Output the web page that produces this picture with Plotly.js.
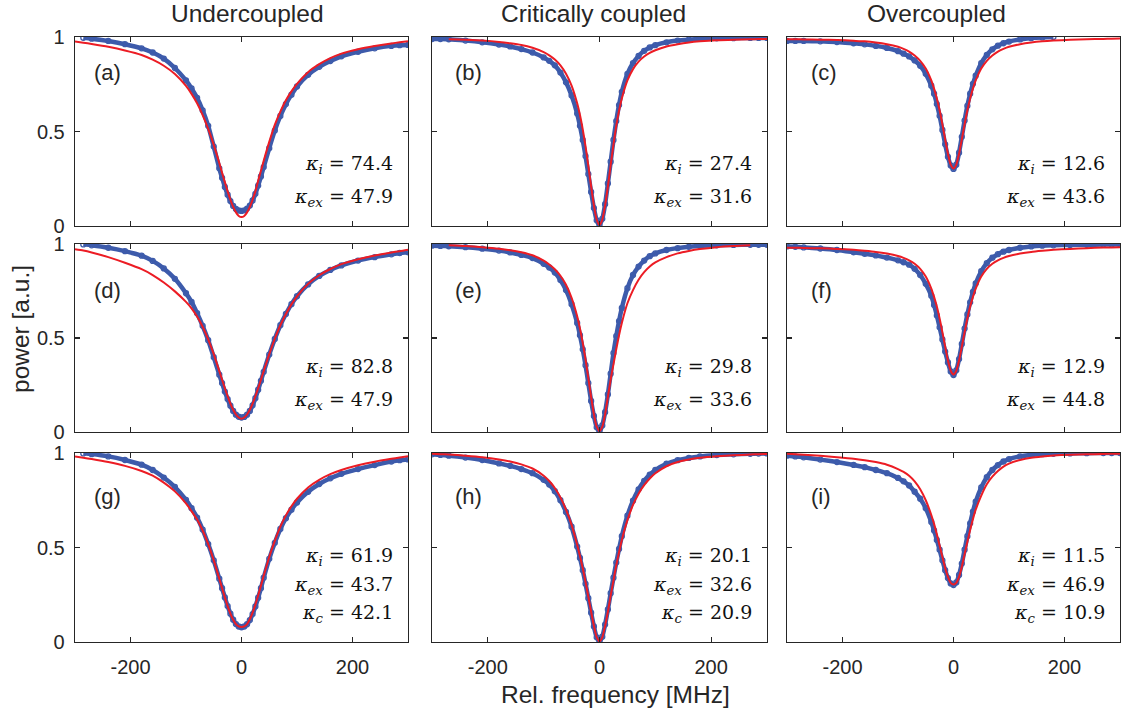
<!DOCTYPE html>
<html>
<head>
<meta charset="utf-8">
<script src="https://cdn.plot.ly/plotly-3.0.1.min.js"></script>
<style>html,body{margin:0;padding:0;background:#fff;}#chart{width:1121px;height:713px;}</style>
</head>
<body>
<div id="chart"></div>
<script>
// Relative frequency grid [MHz]
const freq = [-300,-285,-270,-240,-210,-180,-160,-140,-120,-100,-90,-80,-70,-60,-50,-40,-35,-30,-25,-20,-15,-10,-5,0,5,10,15,20,25,30,35,40,50,60,70,80,90,100,120,140,160,180,210,240,270,285,300];

// Measured power (blue markers) and fits (red lines), panels (a)-(i)
const dataA = [null,0.996,0.991,0.979,0.962,0.940,0.918,0.886,0.836,0.770,0.728,0.678,0.612,0.530,0.420,0.305,0.255,0.207,0.166,0.132,0.106,0.090,0.082,0.080,0.083,0.092,0.108,0.135,0.170,0.214,0.262,0.312,0.412,0.505,0.582,0.645,0.695,0.738,0.800,0.842,0.873,0.898,0.922,0.940,0.953,0.957,0.958];
const fitA  = [0.976,0.970,0.963,0.948,0.929,0.905,0.880,0.848,0.804,0.741,0.699,0.649,0.587,0.514,0.429,0.333,0.282,0.232,0.183,0.139,0.101,0.072,0.053,0.047,0.053,0.072,0.101,0.139,0.183,0.240,0.292,0.345,0.445,0.535,0.605,0.665,0.712,0.752,0.814,0.856,0.888,0.912,0.935,0.952,0.966,0.972,0.978];

const dataB = [0.989,0.989,0.988,0.981,0.972,0.960,0.950,0.936,0.918,0.892,0.874,0.850,0.812,0.760,0.690,0.595,0.530,0.455,0.370,0.275,0.180,0.095,0.030,0.005,0.038,0.115,0.225,0.340,0.455,0.555,0.640,0.710,0.805,0.862,0.900,0.927,0.945,0.957,0.972,0.981,0.986,0.990,0.993,0.994,0.995,0.995,0.995];
const fitB  = [null,null,0.988,0.985,0.981,0.974,0.967,0.958,0.943,0.920,0.903,0.881,0.850,0.806,0.743,0.649,0.587,0.511,0.421,0.318,0.209,0.108,0.033,0.005,0.033,0.108,0.209,0.322,0.430,0.530,0.610,0.675,0.770,0.830,0.870,0.897,0.916,0.930,0.950,0.962,0.971,0.977,0.983,0.986,0.988,0.989,0.990];

const dataC = [0.979,0.979,0.979,0.977,0.973,0.967,0.961,0.953,0.942,0.925,0.912,0.897,0.876,0.848,0.805,0.742,0.700,0.645,0.583,0.508,0.432,0.366,0.320,0.302,0.324,0.388,0.472,0.558,0.636,0.700,0.752,0.795,0.862,0.905,0.935,0.954,0.967,0.976,0.987,0.994,0.998,1.000,null,null,null,null,null];
const fitC  = [0.988,0.988,0.987,0.986,0.984,0.980,0.977,0.971,0.962,0.948,0.937,0.923,0.902,0.874,0.833,0.770,0.727,0.675,0.612,0.538,0.458,0.382,0.325,0.304,0.325,0.382,0.458,0.538,0.612,0.675,0.727,0.770,0.833,0.874,0.902,0.923,0.937,0.948,0.962,0.971,0.977,0.981,0.985,0.988,0.990,0.991,0.992];

const dataD = [null,0.998,0.993,0.980,0.962,0.938,0.910,0.870,0.815,0.738,0.692,0.632,0.565,0.488,0.398,0.305,0.260,0.215,0.175,0.140,0.112,0.092,0.081,0.077,0.080,0.092,0.112,0.142,0.180,0.225,0.272,0.320,0.412,0.495,0.568,0.628,0.680,0.722,0.785,0.830,0.862,0.886,0.912,0.930,0.945,0.952,0.956];
const fitD  = [0.972,0.965,0.955,0.930,0.900,0.866,0.835,0.795,0.748,0.692,0.658,0.614,0.560,0.493,0.414,0.324,0.278,0.233,0.190,0.151,0.118,0.093,0.077,0.071,0.077,0.093,0.118,0.151,0.190,0.233,0.278,0.324,0.414,0.496,0.568,0.628,0.679,0.722,0.788,0.834,0.867,0.893,0.919,0.939,0.955,0.962,0.970];

const dataE = [0.991,0.990,0.988,0.983,0.975,0.965,0.955,0.942,0.925,0.895,0.875,0.848,0.808,0.755,0.680,0.580,0.515,0.440,0.355,0.260,0.165,0.085,0.025,0.004,0.035,0.105,0.200,0.310,0.420,0.510,0.590,0.660,0.765,0.835,0.880,0.912,0.935,0.950,0.968,0.978,0.985,0.990,0.993,0.995,0.996,0.996,0.996];
const fitE  = [null,null,0.993,0.989,0.983,0.975,0.967,0.956,0.940,0.911,0.891,0.866,0.831,0.783,0.714,0.616,0.551,0.474,0.386,0.287,0.186,0.094,0.028,0.004,0.028,0.094,0.186,0.280,0.360,0.440,0.515,0.580,0.685,0.755,0.810,0.850,0.880,0.902,0.930,0.950,0.963,0.973,0.983,0.989,0.993,null,null];

const dataF = [0.987,0.985,0.982,0.976,0.968,0.956,0.948,0.939,0.928,0.913,0.903,0.890,0.868,0.835,0.788,0.725,0.676,0.620,0.557,0.492,0.428,0.370,0.322,0.303,0.328,0.388,0.468,0.550,0.625,0.690,0.745,0.790,0.855,0.898,0.927,0.946,0.959,0.968,0.980,0.987,0.991,0.993,0.995,0.996,0.997,0.997,0.998];
const fitF  = [0.980,0.980,0.979,0.977,0.974,0.969,0.964,0.958,0.949,0.936,0.926,0.913,0.895,0.868,0.827,0.763,0.719,0.667,0.604,0.531,0.454,0.380,0.326,0.306,0.326,0.380,0.454,0.531,0.604,0.667,0.719,0.763,0.827,0.868,0.895,0.913,0.926,0.936,0.949,0.958,0.964,0.969,0.974,0.978,0.981,0.982,0.983];

const dataG = [null,0.998,0.994,0.982,0.963,0.938,0.910,0.870,0.820,0.752,0.708,0.658,0.595,0.518,0.432,0.335,0.285,0.236,0.190,0.150,0.118,0.095,0.082,0.078,0.082,0.094,0.116,0.148,0.188,0.234,0.285,0.340,0.440,0.525,0.598,0.655,0.700,0.738,0.795,0.836,0.866,0.890,0.915,0.936,0.955,0.962,0.966];
const fitG  = [0.982,0.975,0.968,0.952,0.932,0.905,0.880,0.843,0.797,0.733,0.692,0.648,0.590,0.518,0.432,0.335,0.285,0.236,0.190,0.150,0.118,0.095,0.083,0.080,0.083,0.095,0.120,0.155,0.198,0.246,0.298,0.350,0.450,0.535,0.610,0.670,0.718,0.758,0.818,0.858,0.888,0.910,0.935,0.954,0.969,0.976,0.983];

const dataH = [0.993,0.990,0.986,0.976,0.963,0.945,0.932,0.915,0.893,0.858,0.833,0.798,0.750,0.688,0.610,0.505,0.445,0.380,0.308,0.232,0.155,0.082,0.025,0.004,0.028,0.092,0.172,0.258,0.340,0.420,0.492,0.560,0.668,0.748,0.808,0.852,0.885,0.910,0.943,0.962,0.974,0.982,0.989,0.993,0.996,0.997,0.998];
const fitH  = [0.996,0.994,0.992,0.986,0.978,0.966,0.955,0.940,0.918,0.880,0.852,0.815,0.765,0.700,0.620,0.515,0.455,0.390,0.318,0.240,0.160,0.085,0.025,0.003,0.025,0.085,0.160,0.245,0.325,0.405,0.475,0.540,0.645,0.725,0.785,0.830,0.865,0.893,0.930,0.952,0.966,0.975,0.983,0.988,0.992,0.994,0.995];

const dataI = [0.986,0.982,0.977,0.965,0.952,0.937,0.925,0.910,0.893,0.868,0.850,0.828,0.795,0.758,0.708,0.635,0.590,0.540,0.488,0.432,0.380,0.338,0.310,0.301,0.315,0.355,0.415,0.488,0.560,0.628,0.690,0.742,0.818,0.872,0.910,0.936,0.955,0.968,0.982,0.990,0.994,0.996,0.998,0.999,1.000,1.000,1.000];
const fitI  = [0.996,0.994,0.991,0.985,0.978,0.970,0.962,0.952,0.938,0.915,0.900,0.880,0.850,0.808,0.750,0.672,0.625,0.570,0.510,0.450,0.392,0.345,0.313,0.304,0.313,0.345,0.398,0.465,0.530,0.593,0.650,0.700,0.775,0.835,0.875,0.905,0.928,0.944,0.963,0.975,0.982,0.987,0.991,0.993,0.995,0.996,0.996];

const panelData = [dataA,dataB,dataC,dataD,dataE,dataF,dataG,dataH,dataI];
const panelFit  = [fitA,fitB,fitC,fitD,fitE,fitF,fitG,fitH,fitI];
const panelLabels = ['(a)','(b)','(c)','(d)','(e)','(f)','(g)','(h)','(i)'];
const kappaI  = ['74.4','27.4','12.6','82.8','29.8','12.9','61.9','20.1','11.5'];
const kappaEx = ['47.9','31.6','43.6','47.9','33.6','44.8','43.7','32.6','46.9'];
const kappaC  = [null,null,null,null,null,null,'42.1','20.9','10.9'];
const columnTitles = ['Undercoupled','Critically coupled','Overcoupled'];
const xTickVals = [-200,0,200];
const xTickText = ['-200','0','200'];
const yTickVals = [0,0.5,1];
const yTickText = ['0','0.5','1'];

const W = 1121, H = 713;
const colPx = [[75,408],[432,767],[787,1120]];
const rowPx = [[37,226],[244,432],[453,642]];
const BLUE = '#3d5bab', RED = '#ec1c24', INK = '#262626';

const traces = [];
const layout = {
  width: W, height: H,
  margin: {l:0, r:0, t:0, b:0},
  paper_bgcolor: '#ffffff', plot_bgcolor: '#ffffff',
  showlegend: false,
  font: {family: 'Liberation Sans, Arial, sans-serif', color: INK, size: 20},
  annotations: []
};

for (let i = 0; i < 9; i++) {
  const r = Math.floor(i/3), c = i % 3;
  const xn = i === 0 ? 'x' : 'x' + (i+1);
  const yn = i === 0 ? 'y' : 'y' + (i+1);
  const xa = i === 0 ? 'xaxis' : 'xaxis' + (i+1);
  const ya = i === 0 ? 'yaxis' : 'yaxis' + (i+1);
  layout[xa] = {
    domain: [colPx[c][0]/W, colPx[c][1]/W], anchor: yn,
    range: [-300, 300], tickmode: 'array', tickvals: xTickVals, ticktext: xTickText,
    showticklabels: r === 2, ticks: 'inside', ticklen: 5, tickwidth: 1.2, tickcolor: INK,
    showline: true, linecolor: INK, linewidth: 1.3, mirror: 'ticks',
    showgrid: false, zeroline: false, fixedrange: true,
    tickfont: {size: 20, color: INK}, ticklabelstandoff: 7
  };
  layout[ya] = {
    domain: [1 - rowPx[r][1]/H, 1 - rowPx[r][0]/H], anchor: xn,
    range: [0, 1], tickmode: 'array', tickvals: yTickVals, ticktext: yTickText,
    showticklabels: c === 0, ticks: 'inside', ticklen: 5, tickwidth: 1.2, tickcolor: INK,
    showline: true, linecolor: INK, linewidth: 1.3, mirror: 'ticks',
    showgrid: false, zeroline: false, fixedrange: true,
    tickfont: {size: 20, color: INK}, ticklabelstandoff: 5
  };
  traces.push({
    x: freq, y: panelData[i], xaxis: xn, yaxis: yn, type: 'scatter', mode: 'lines+markers',
    line: {color: BLUE, width: 4.5, shape: 'spline', smoothing: 0.6},
    marker: {symbol: 'circle-open', size: 5, color: BLUE, line: {width: 1.3, color: BLUE}},
    connectgaps: false, hoverinfo: 'skip'
  });
  traces.push({
    x: freq, y: panelFit[i], xaxis: xn, yaxis: yn, type: 'scatter', mode: 'lines',
    line: {color: RED, width: 2, shape: 'spline', smoothing: 0.6},
    connectgaps: false, hoverinfo: 'skip'
  });

  const labelY = [0.81, 0.755, 0.77][r];
  const labelX = [-270, -262, -260][c];
  layout.annotations.push({
    xref: xn, yref: yn, x: labelX, y: labelY, xanchor: 'left', yanchor: 'middle',
    text: panelLabels[i], showarrow: false, font: {size: 22, color: INK}
  });
  const kFont = {family: 'DejaVu Serif, Liberation Serif, serif', size: 19, color: '#111111'};
  let lines;
  if (kappaC[i] === null) {
    lines = [
      ['<i>κ</i><sub><i>i</i></sub> = ' + kappaI[i], r === 0 ? 0.325 : 0.345],
      ['<i>κ</i><sub><i>ex</i></sub> = ' + kappaEx[i], r === 0 ? 0.15 : 0.165]
    ];
  } else {
    lines = [
      ['<i>κ</i><sub><i>i</i></sub> = ' + kappaI[i], 0.452],
      ['<i>κ</i><sub><i>ex</i></sub> = ' + kappaEx[i], 0.298],
      ['<i>κ</i><sub><i>c</i></sub> = ' + kappaC[i], 0.150]
    ];
  }
  lines.forEach(function(l){
    layout.annotations.push({
      xref: xn, yref: yn, x: 277, y: l[1], xanchor: 'right', yanchor: 'middle',
      text: l[0], showarrow: false, font: kFont
    });
  });
}

const titleX = [247, 593, 936];
columnTitles.forEach(function(t, k){
  layout.annotations.push({
    xref: 'paper', yref: 'paper', x: titleX[k]/W, y: 1 - 13/H, xanchor: 'center', yanchor: 'middle',
    text: t, showarrow: false, font: {size: 24.5, color: INK}
  });
});
layout.annotations.push({
  xref: 'paper', yref: 'paper', x: 615/W, y: 1 - 694/H, xanchor: 'center', yanchor: 'middle',
  text: 'Rel. frequency [MHz]', showarrow: false, font: {size: 24.5, color: INK}
});
layout.annotations.push({
  xref: 'paper', yref: 'paper', x: 20/W, y: 1 - 329/H, xanchor: 'center', yanchor: 'middle',
  text: 'power [a.u.]', textangle: -90, showarrow: false, font: {size: 24.5, color: INK}
});

Plotly.newPlot('chart', traces, layout, {staticPlot: true, displayModeBar: false});
</script>
</body>
</html>
